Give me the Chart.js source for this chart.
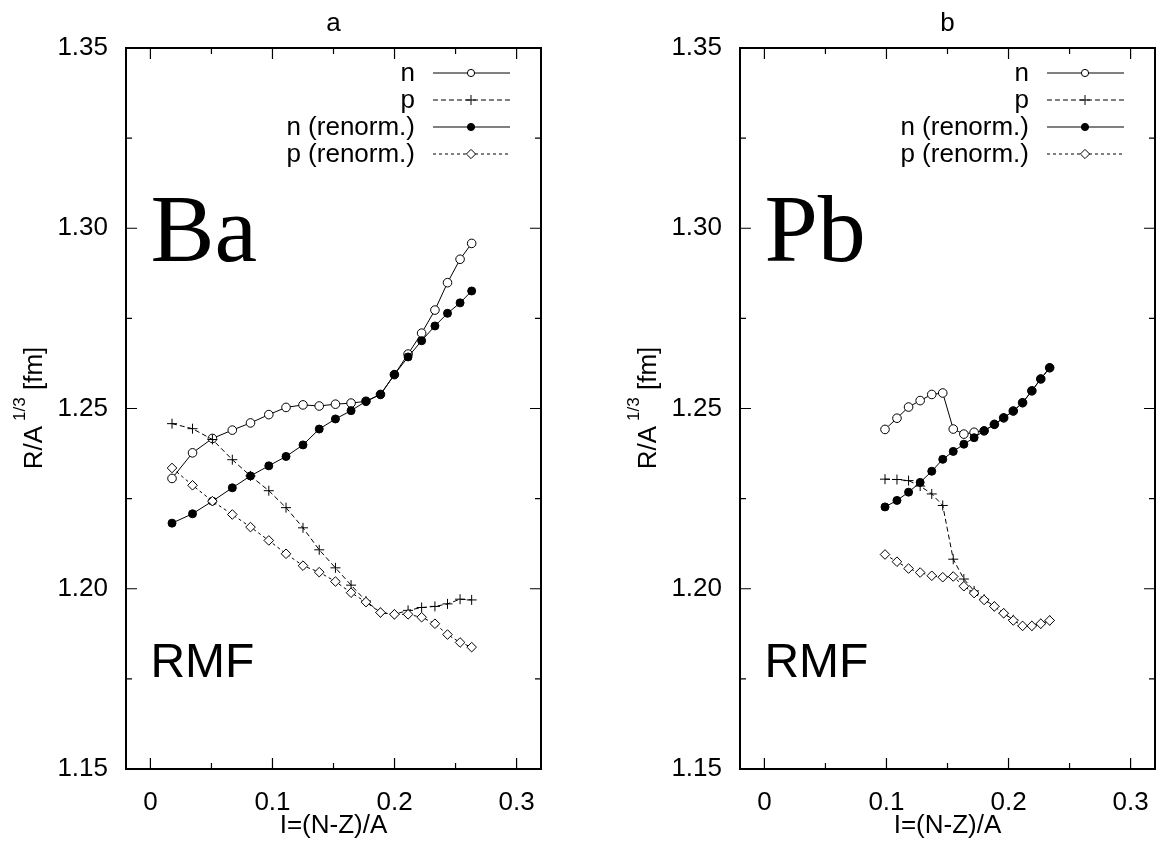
<!DOCTYPE html>
<html>
<head>
<meta charset="utf-8">
<script src="https://cdn.jsdelivr.net/npm/chart.js@4.4.1/dist/chart.umd.min.js"></script>
<style>
  html, body { margin: 0; padding: 0; background: #fff; overflow: hidden; }
  canvas { position: absolute; top: 0; }
  #panelA { left: 0; }
  #panelB { left: 614px; }
</style>
</head>
<body>
<canvas id="panelA" width="547" height="846"></canvas>
<canvas id="panelB" width="547" height="846"></canvas>
<script>
// Ba chain, I = (N-Z)/A
const baI = [0.0177, 0.0345, 0.0508, 0.0671, 0.0820, 0.0970, 0.1111, 0.1250, 0.1383, 0.1516,
             0.1644, 0.1766, 0.1885, 0.1999, 0.2111, 0.2222, 0.2331, 0.2434, 0.2537, 0.2632];
const baN = [1.2306, 1.2377, 1.2417, 1.2440, 1.2460, 1.2483, 1.2503, 1.2510, 1.2507, 1.2512,
             1.2515, 1.2520, 1.2539, 1.2594, 1.2651, 1.2709, 1.2773, 1.2849, 1.2914, 1.2958];
const baP = [1.2458, 1.2444, 1.2414, 1.2358, 1.2313, 1.2272, 1.2225, 1.2169, 1.2108, 1.2058,
             1.2010, 1.1966, 1.1934, 1.1929, 1.1940, 1.1948, 1.1951, 1.1958, 1.1971, 1.1969];
const baNren = [1.2182, 1.2208, 1.2243, 1.2280, 1.2313, 1.2341, 1.2367, 1.2399, 1.2443, 1.2471,
                1.2494, 1.2520, 1.2539, 1.2594, 1.2643, 1.2688, 1.2729, 1.2764, 1.2793, 1.2826];
const baPren = [1.2335, 1.2287, 1.2243, 1.2206, 1.2171, 1.2134, 1.2097, 1.2064, 1.2046, 1.2020,
                1.1989, 1.1963, 1.1934, 1.1929, 1.1929, 1.1921, 1.1903, 1.1873, 1.1851, 1.1838];

// Pb chain
const pbI = [0.0988, 0.1086, 0.1181, 0.1276, 0.1371, 0.1461, 0.1547, 0.1634, 0.1718,
             0.1800, 0.1884, 0.1960, 0.2039, 0.2115, 0.2191, 0.2264, 0.2337];
const pbN = [1.2442, 1.2473, 1.2504, 1.2522, 1.2539, 1.2543, 1.2443, 1.2429, 1.2434,
             1.2438, 1.2456, 1.2474, 1.2493, 1.2516, 1.2549, 1.2582, 1.2613];
const pbP = [1.2304, 1.2303, 1.2300, 1.2285, 1.2263, 1.2231, 1.2082, 1.2027, 1.1994,
             1.1971, 1.1951, 1.1932, 1.1914, 1.1897, 1.1897, 1.1903, 1.1912];
const pbNren = [1.2227, 1.2245, 1.2268, 1.2295, 1.2326, 1.2359, 1.2381, 1.2401, 1.2419,
                1.2438, 1.2456, 1.2474, 1.2493, 1.2516, 1.2549, 1.2582, 1.2613];
const pbPren = [1.2095, 1.2075, 1.2056, 1.2045, 1.2036, 1.2032, 1.2034, 1.2007, 1.1988,
                1.1969, 1.1951, 1.1932, 1.1912, 1.1897, 1.1897, 1.1903, 1.1912];

const seriesNames = ['n', 'p', 'n (renorm.)', 'p (renorm.)'];
const xTicks = [0, 0.1, 0.2, 0.3];
const xTickLabels = ['0', '0.1', '0.2', '0.3'];
const xMinorTicks = [0.05, 0.15, 0.25];
const yTicks = [1.15, 1.20, 1.25, 1.30, 1.35];
const yTickLabels = ['1.15', '1.20', '1.25', '1.30', '1.35'];
const yMinorTicks = [1.175, 1.225, 1.275, 1.325];

const SANS = '"Liberation Sans", Arial, Helvetica, sans-serif';
const SERIF = '"Liberation Serif", "Times New Roman", serif';
Chart.defaults.font.family = SANS;
Chart.defaults.color = '#000';

const looks = [
  { pointStyle: 'circle',  radius: 4.3, fill: '#fff', dash: [],     legendR: 3.6 },
  { pointStyle: 'cross',   radius: 5,   fill: '#000', dash: [5, 3], legendR: 5 },
  { pointStyle: 'circle',  radius: 4,   fill: '#000', dash: [],     legendR: 3.6 },
  { pointStyle: 'rectRot', radius: 4.8, fill: '#fff', dash: [3, 3], legendR: 4.6 }
];

function marker(ctx, style, x, y, r, fill) {
  ctx.beginPath();
  if (style === 'circle') {
    ctx.arc(x, y, r, 0, Math.PI * 2);
  } else if (style === 'rectRot') {
    ctx.moveTo(x - r, y); ctx.lineTo(x, y - r); ctx.lineTo(x + r, y); ctx.lineTo(x, y + r);
    ctx.closePath();
  } else {
    ctx.moveTo(x - r, y); ctx.lineTo(x + r, y);
    ctx.moveTo(x, y - r); ctx.lineTo(x, y + r);
  }
  if (style !== 'cross') { ctx.fillStyle = fill; ctx.fill(); }
  ctx.stroke();
}

// gnuplot-like frame, inward ticks, legend and text labels
const decor = {
  id: 'decor',
  beforeDatasetsDraw(chart) {
    const { ctx, chartArea: a, scales: { x, y } } = chart;
    ctx.save();
    ctx.strokeStyle = '#000';
    ctx.lineWidth = 1.2;
    ctx.beginPath();
    const xt = (v, len) => {
      const px = x.getPixelForValue(v);
      ctx.moveTo(px, a.bottom); ctx.lineTo(px, a.bottom - len);
      ctx.moveTo(px, a.top); ctx.lineTo(px, a.top + len);
    };
    const yt = (v, len) => {
      const py = y.getPixelForValue(v);
      ctx.moveTo(a.left, py); ctx.lineTo(a.left + len, py);
      ctx.moveTo(a.right, py); ctx.lineTo(a.right - len, py);
    };
    xTicks.forEach(v => xt(v, 11));
    xMinorTicks.forEach(v => xt(v, 6));
    yTicks.forEach(v => yt(v, 11));
    yMinorTicks.forEach(v => yt(v, 6));
    ctx.stroke();
    ctx.lineWidth = 2;
    ctx.strokeRect(a.left, a.top, a.right - a.left, a.bottom - a.top);
    ctx.restore();
  },
  afterDatasetsDraw(chart, args, opts) {
    const { ctx, chartArea: a, scales: { x, y } } = chart;
    ctx.save();
    ctx.fillStyle = '#000';
    ctx.strokeStyle = '#000';

    // element symbol and model name
    ctx.textAlign = 'left';
    ctx.textBaseline = 'alphabetic';
    ctx.font = '96px ' + SERIF;
    ctx.fillText(opts.element, x.getPixelForValue(0), y.getPixelForValue(1.291));
    ctx.font = '48px ' + SANS;
    ctx.fillText('RMF', x.getPixelForValue(0), y.getPixelForValue(1.1755));

    // legend, text on the left of the sample
    chart.data.datasets.forEach((ds, k) => {
      const cy = a.top + 25 + 27 * k;
      ctx.fillStyle = '#000';
      ctx.font = '26px ' + SANS;
      ctx.textAlign = 'right';
      ctx.fillText(ds.label, a.right - 126, cy + 8);
      ctx.lineWidth = 1;
      ctx.setLineDash(looks[k].dash);
      ctx.beginPath();
      ctx.moveTo(a.right - 108, cy); ctx.lineTo(a.right - 31, cy);
      ctx.stroke();
      ctx.setLineDash([]);
      marker(ctx, looks[k].pointStyle, a.right - 70, cy, looks[k].legendR, looks[k].fill);
    });

    // y axis title with superscript
    ctx.fillStyle = '#000';
    ctx.textAlign = 'left';
    ctx.translate(42, 408);
    ctx.rotate(-Math.PI / 2);
    const big = '26px ' + SANS, small = '17px ' + SANS;
    ctx.font = big; const w1 = ctx.measureText('R/A').width;
    ctx.font = small; const w2 = ctx.measureText('1/3').width;
    ctx.font = big; const w3 = ctx.measureText(' [fm]').width;
    const gap = 5;
    let u = -(w1 + gap + w2 + w3) / 2;
    ctx.font = big; ctx.fillText('R/A', u, 0); u += w1 + gap;
    ctx.font = small; ctx.fillText('1/3', u, -17); u += w2;
    ctx.font = big; ctx.fillText(' [fm]', u, 0);
    ctx.restore();
  }
};

function makePanel(id, title, element, xs, series) {
  const datasets = series.map((ys, k) => ({
    label: seriesNames[k],
    data: xs.map((v, i) => ({ x: v, y: ys[i] })),
    showLine: true,
    borderColor: '#000',
    borderWidth: 1,
    borderDash: looks[k].dash,
    pointStyle: looks[k].pointStyle,
    pointRadius: looks[k].radius,
    pointBackgroundColor: looks[k].fill,
    pointBorderColor: '#000',
    pointBorderWidth: 1,
    order: 3 - k
  }));

  new Chart(document.getElementById(id), {
    type: 'scatter',
    data: { datasets },
    plugins: [decor],
    options: {
      responsive: false,
      animation: false,
      events: [],
      layout: { padding: { left: 0, right: 4, top: 0, bottom: 0 } },
      plugins: {
        legend: { display: false },
        tooltip: { enabled: false },
        title: {
          display: true, text: title, fullSize: false, color: '#000',
          font: { size: 26, weight: 'normal' },
          padding: { top: 8, bottom: 8.8 }
        },
        decor: { element }
      },
      scales: {
        x: {
          type: 'linear', min: -0.02, max: 0.32,
          grid: { display: false, drawTicks: false },
          border: { display: false },
          afterBuildTicks: s => { s.ticks = xTicks.map(v => ({ value: v })); },
          afterFit: s => { s.height = 77; s.paddingLeft = 0; s.paddingRight = 0; },
          ticks: { padding: 18, font: { size: 26 }, maxRotation: 0,
                   callback: (v, i) => xTickLabels[i] },
          title: { display: true, text: 'I=(N-Z)/A', color: '#000',
                   font: { size: 26 }, padding: { top: 0, bottom: 5 } }
        },
        y: {
          type: 'linear', min: 1.15, max: 1.35,
          grid: { display: false, drawTicks: false },
          border: { display: false },
          afterBuildTicks: s => { s.ticks = yTicks.map(v => ({ value: v })); },
          afterFit: s => { s.width = 126; s.paddingTop = 0; s.paddingBottom = 0; },
          ticks: { padding: 18, font: { size: 26 },
                   callback: (v, i) => yTickLabels[i] }
        }
      }
    }
  });
}

makePanel('panelA', 'a', 'Ba', baI, [baN, baP, baNren, baPren]);
makePanel('panelB', 'b', 'Pb', pbI, [pbN, pbP, pbNren, pbPren]);
</script>
</body>
</html>
